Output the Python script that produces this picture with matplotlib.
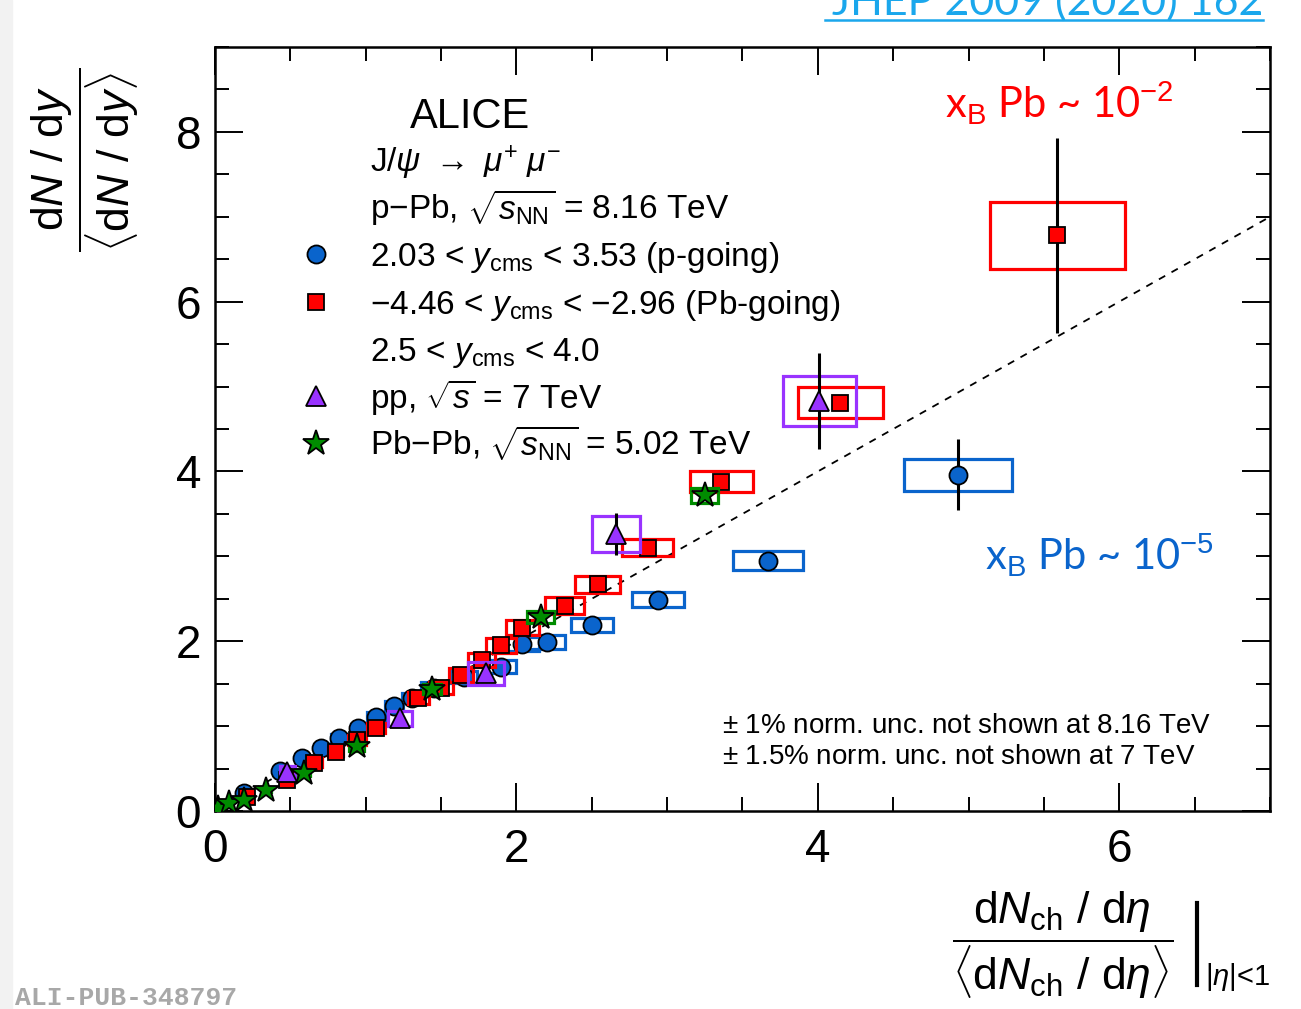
import matplotlib
matplotlib.use('Agg')
import matplotlib.pyplot as plt
from matplotlib.patches import Rectangle
from matplotlib.lines import Line2D
from matplotlib.ticker import MultipleLocator

plt.rcParams['font.family'] = ['Liberation Sans', 'DejaVu Sans']
plt.rcParams['mathtext.fontset'] = 'custom'
plt.rcParams['mathtext.rm'] = 'Liberation Sans'
plt.rcParams['mathtext.it'] = 'Liberation Sans:italic'
plt.rcParams['mathtext.bf'] = 'Liberation Sans:bold'
plt.rcParams['mathtext.sf'] = 'Liberation Sans'

#---------------------------------------
# data
# p-Pb 8.16 TeV, p-going (2.03 < y < 3.53)
pgo_x = [0.19, 0.43, 0.58, 0.70, 0.82, 0.95, 1.07, 1.19, 1.31, 1.45, 1.65, 1.90, 2.04, 2.20, 2.50, 2.94, 3.67, 4.93]
pgo_y = [0.21, 0.47, 0.63, 0.74, 0.86, 0.98, 1.11, 1.24, 1.33, 1.45, 1.58, 1.70, 1.97, 1.99, 2.19, 2.49, 2.95, 3.96]
pgo_stat = [0.01, 0.01, 0.01, 0.01, 0.01, 0.01, 0.01, 0.01, 0.01, 0.02, 0.02, 0.02, 0.02, 0.02, 0.03, 0.04, 0.06, 0.42]
pgo_sx = [0.02, 0.03, 0.04, 0.04, 0.05, 0.05, 0.06, 0.06, 0.07, 0.08, 0.09, 0.10, 0.11, 0.12, 0.14, 0.17, 0.23, 0.36]
pgo_sy = [0.03, 0.04, 0.04, 0.05, 0.05, 0.05, 0.06, 0.06, 0.06, 0.07, 0.07, 0.08, 0.08, 0.08, 0.08, 0.09, 0.11, 0.19]

# p-Pb 8.16 TeV, Pb-going (-4.46 < y < -2.96)
pbgo_x = [0.21, 0.48, 0.66, 0.80, 0.94, 1.07, 1.35, 1.50, 1.63, 1.77, 1.90, 2.04, 2.32, 2.54, 2.87, 3.36, 4.15, 5.59]
pbgo_y = [0.16, 0.37, 0.57, 0.70, 0.84, 0.98, 1.33, 1.45, 1.60, 1.78, 1.95, 2.16, 2.42, 2.67, 3.10, 3.88, 4.81, 6.78]
pbgo_stat = [0.01, 0.01, 0.01, 0.01, 0.01, 0.01, 0.02, 0.02, 0.02, 0.02, 0.02, 0.03, 0.03, 0.03, 0.04, 0.05, 0.08, 1.15]
pbgo_sx = [0.03, 0.04, 0.05, 0.05, 0.06, 0.06, 0.07, 0.08, 0.08, 0.09, 0.10, 0.11, 0.13, 0.15, 0.17, 0.21, 0.28, 0.45]
pbgo_sy = [0.03, 0.04, 0.05, 0.05, 0.06, 0.06, 0.07, 0.07, 0.08, 0.08, 0.09, 0.09, 0.10, 0.10, 0.10, 0.12, 0.18, 0.39]

# pp 7 TeV
pp_x = [0.48, 1.23, 1.80, 2.66, 4.01]
pp_y = [0.46, 1.09, 1.62, 3.26, 4.83]
pp_stat = [0.03, 0.04, 0.08, 0.25, 0.57]
pp_sx = [0.05, 0.08, 0.12, 0.16, 0.24]
pp_sy = [0.07, 0.09, 0.13, 0.21, 0.30]

# Pb-Pb 5.02 TeV
pbpb_x = [0.02, 0.09, 0.19, 0.34, 0.59, 0.94, 1.44, 2.16, 3.25]
pbpb_y = [0.04, 0.09, 0.13, 0.25, 0.45, 0.76, 1.44, 2.29, 3.72]
pbpb_stat = [0.01, 0.01, 0.01, 0.01, 0.02, 0.02, 0.03, 0.04, 0.06]
pbpb_sx = [0.01, 0.02, 0.02, 0.03, 0.04, 0.05, 0.06, 0.09, 0.09]
pbpb_sy = [0.01, 0.02, 0.02, 0.03, 0.04, 0.05, 0.06, 0.07, 0.09]

diag = [0, 7]

leg_labels = [
    r'J/$\psi$ $\rightarrow$ $\mu^{+}$ $\mu^{-}$',
    r'p$-$Pb, $\sqrt{s_{\mathrm{NN}}}$ = 8.16 TeV',
    r'2.03 < $y_{\mathrm{cms}}$ < 3.53 (p-going)',
    r'$-$4.46 < $y_{\mathrm{cms}}$ < $-$2.96 (Pb-going)',
    r'2.5 < $y_{\mathrm{cms}}$ < 4.0',
    r'pp, $\sqrt{s}$ = 7 TeV',
    r'Pb$-$Pb, $\sqrt{s_{\mathrm{NN}}}$ = 5.02 TeV',
]
#---------------------------------------

c_blue = '#0a64cc'
c_red = '#ff0000'
c_purple = '#9933ff'
c_green = '#008c00'

W, H = 1301, 1009
fig = plt.figure(figsize=(W / 100, H / 100), dpi=100)
fig.patches.append(Rectangle((0, 0), 12 / W, 1, transform=fig.transFigure, color='#f2f2f2', zorder=0))
ax = fig.add_axes([215 / W, 1 - 811 / H, (1270 - 215) / W, (811 - 47) / H])

ax.plot(diag, diag, ls=(0, (4, 4)), color='black', lw=1.3, zorder=1)

series = [
    (pgo_x, pgo_y, pgo_stat, pgo_sx, pgo_sy, c_blue, 'o', 13),
    (pbgo_x, pbgo_y, pbgo_stat, pbgo_sx, pbgo_sy, c_red, 's', 12),
    (pp_x, pp_y, pp_stat, pp_sx, pp_sy, c_purple, '^', 15),
    (pbpb_x, pbpb_y, pbpb_stat, pbpb_sx, pbpb_sy, c_green, '*', 19),
]
z = 2
for xs, ys, st, sx, sy, col, mk, ms in series:
    for xi, yi, ex, ey in zip(xs, ys, sx, sy):
        ax.add_patch(Rectangle((xi - ex, yi - ey), 2 * ex, 2 * ey, fill=False,
                               edgecolor=col, lw=2.3, zorder=z))
    ax.errorbar(xs, ys, yerr=st, fmt='none', ecolor='black', elinewidth=2.2, capsize=0, zorder=z + 1)
    ax.plot(xs, ys, ls='none', marker=mk, ms=ms, mfc=col, mec='black', mew=1.3, zorder=z + 2)
    z += 3

ax.set_xlim(0, 7)
ax.set_ylim(0, 9)
ax.xaxis.set_major_locator(MultipleLocator(2))
ax.xaxis.set_minor_locator(MultipleLocator(0.5))
ax.yaxis.set_major_locator(MultipleLocator(2))
ax.yaxis.set_minor_locator(MultipleLocator(0.5))
ax.tick_params(which='both', direction='in', top=True, right=True, width=1.4)
ax.tick_params(which='major', length=20, labelsize=33)
ax.tick_params(axis='y', which='major', pad=10)
ax.tick_params(axis='x', which='major', pad=12)
ax.tick_params(which='minor', length=10)
for s in ax.spines.values():
    s.set_linewidth(1.8)

# legend block (rows evenly spaced like the ROOT TLegend)
ax.text(0.242, 0.894, 'ALICE', transform=ax.transAxes, ha='center', va='baseline', fontsize=30)
leg_keys = [None, None, (c_blue, 'o', 13), (c_red, 's', 12), None, (c_purple, '^', 15), (c_green, '*', 19)]
row0 = (811 - 172) / 764
pitch = 47.2 / 764
key_x = (316 - 215) / 1055
txt_x = (370 - 215) / 1055
for i, (lab, key) in enumerate(zip(leg_labels, leg_keys)):
    yb = row0 - i * pitch
    ax.text(txt_x, yb, lab, transform=ax.transAxes, fontsize=24, va='baseline')
    if key is not None:
        ax.plot([key_x], [yb + 12 / 764], transform=ax.transAxes, ls='none', marker=key[1],
                ms=key[2], mfc=key[0], mec='black', mew=1.3, clip_on=False)

ax.text(0.692, 0.907, r'x$_{\mathrm{B}}$ Pb ~ 10$^{-2}$', transform=ax.transAxes,
        color=c_red, fontsize=30, family='Lato', va='baseline')
ax.text(0.730, 0.315, r'x$_{\mathrm{B}}$ Pb ~ 10$^{-5}$', transform=ax.transAxes,
        color=c_blue, fontsize=30, family='Lato', va='baseline')

ax.text(0.481, 0.102, r'$\pm$ 1% norm. unc. not shown at 8.16 TeV', transform=ax.transAxes,
        fontsize=20, va='baseline')
ax.text(0.481, 0.062, r'$\pm$ 1.5% norm. unc. not shown at 7 TeV', transform=ax.transAxes,
        fontsize=20, va='baseline')

# axis titles
fig.text(85 / W, 1 - 160 / H,
         r'$\dfrac{\mathrm{d}N\ /\ \mathrm{d}y}{\langle\mathrm{d}N\ /\ \mathrm{d}y\rangle}$',
         rotation=90, ha='center', va='center', fontsize=32)
fig.text(1063 / W, 1 - 945 / H,
         r'$\dfrac{\mathrm{d}N_{\mathrm{ch}}\ /\ \mathrm{d}\eta}{\langle\mathrm{d}N_{\mathrm{ch}}\ /\ \mathrm{d}\eta\rangle}$',
         ha='center', va='center', fontsize=32)
fig.add_artist(Line2D([1197 / W, 1197 / W], [1 - 903 / H, 1 - 985 / H], color='black', lw=3))
fig.text(1205 / W, 1 - 985 / H, r'|$\eta$|<1', fontsize=21, va='baseline')

# header and id
fig.text(1263 / W, 1 - 15 / H, 'JHEP 2009 (2020) 162', color='#1aa7ec', fontsize=31,
         family='Lato', ha='right', va='baseline')
fig.add_artist(Line2D([825 / W, 1263 / W], [1 - 20 / H, 1 - 20 / H], color='#1aa7ec', lw=1.8))
fig.text(15 / W, 1 - 1005 / H, 'ALI-PUB-348797', color='#a8a8a8', fontsize=19,
         family='Liberation Mono', weight='bold', va='baseline')

plt.savefig('out.png', dpi=100)
plt.close()
